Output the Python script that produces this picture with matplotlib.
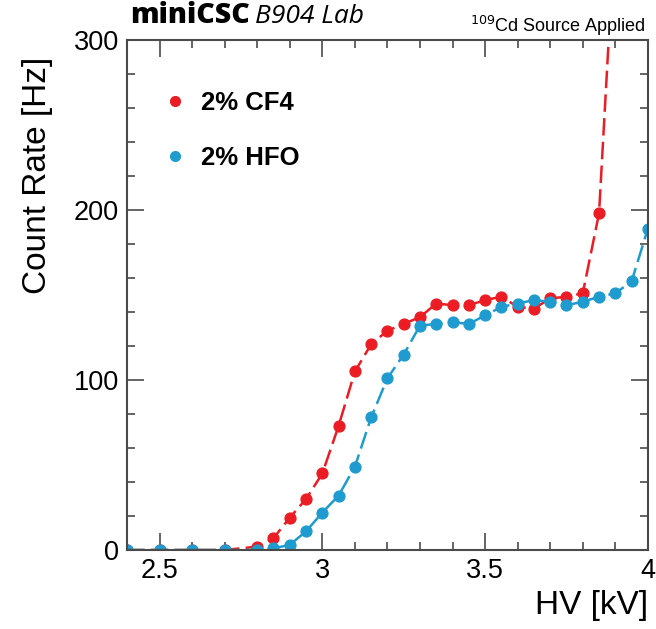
import numpy as np
import matplotlib
matplotlib.use("Agg")
import matplotlib.pyplot as plt
from matplotlib.ticker import MultipleLocator

# HV scan points [kV]
hv = [2.4, 2.5, 2.6, 2.7, 2.8, 2.85, 2.9, 2.95, 3.0, 3.05, 3.1, 3.15, 3.2, 3.25,
      3.3, 3.35, 3.4, 3.45, 3.5, 3.55, 3.6, 3.65, 3.7, 3.75, 3.8, 3.85, 3.9,
      3.95, 4.0]

# count rate [Hz], 2% CF4 (last point runs off the top)
rate_cf4 = [0, 0, 0, 0, 2, 7, 19, 30, 45, 73, 105, 121, 129, 133,
            137, 145, 144, 144, 147, 149, 143, 142, 148, 149, 151, 198, 370]
hv_cf4 = hv[:len(rate_cf4)]

# count rate [Hz], 2% HFO
rate_hfo = [0, 0, 0, 0, 0, 1, 3, 11, 22, 32, 49, 78, 101, 115,
            132, 133, 134, 133, 138, 143, 145, 147, 146, 144, 146, 149, 151,
            158, 189]

red = "#ec1c24"
blue = "#1f9bcf"

fig = plt.figure(figsize=(6.56, 6.29), dpi=100)
ax = fig.add_axes([0.1936, 0.1256, 0.794, 0.8108])

style = dict(marker="o", markersize=7.8, linewidth=1.8, dashes=(7, 2.5))
ax.plot(hv_cf4, rate_cf4, color=red, label="2% CF4", **style)
ax.plot(hv, rate_hfo, color=blue, label="2% HFO", **style)

ax.set_xlim(2.4, 4.0)
ax.set_ylim(0, 300)
ax.xaxis.set_major_locator(MultipleLocator(0.5))
ax.xaxis.set_minor_locator(MultipleLocator(0.1))
ax.yaxis.set_major_locator(MultipleLocator(100))
ax.yaxis.set_minor_locator(MultipleLocator(20))
ax.set_xticks([2.5, 3.0, 3.5, 4.0], ["2.5", "3", "3.5", "4"])

frame = "#4a4a4a"
for s in ax.spines.values():
    s.set_color(frame)
    s.set_linewidth(1.5)
ax.tick_params(which="both", direction="in", top=True, right=True,
               color=frame, width=1.2, labelsize=19.5,
               labelfontfamily="Liberation Sans")
ax.tick_params(which="major", length=12, pad=6)
ax.tick_params(which="minor", length=6)

ax.set_xlabel("HV [kV]", fontsize=24, family="Liberation Sans", loc="right")
ax.set_ylabel("Count Rate [Hz]", fontsize=24, family="Liberation Sans")
ax.yaxis.set_label_coords(-0.142, 0.735)

leg = ax.legend(loc="upper left", bbox_to_anchor=(0.033, 0.945), frameon=False,
                handlelength=0.6, handletextpad=0.7, labelspacing=1.2,
                prop=dict(family="Liberation Sans", weight="bold", size=18.5))
for h in leg.legend_handles:
    h.set_linestyle("none")
    h.set_markersize(7)

fig.text(0.198, 0.963, "miniCSC", fontsize=20.5, weight="heavy", family="Open Sans",
         va="baseline")
fig.text(0.389, 0.963, "B904 Lab", fontsize=19, style="italic", family="Open Sans",
         va="baseline")
fig.text(0.985, 0.949, r"$^{109}$Cd Source Applied", fontsize=13,
         family="Liberation Sans", ha="right", va="baseline")

fig.savefig("out.png", dpi=100)
